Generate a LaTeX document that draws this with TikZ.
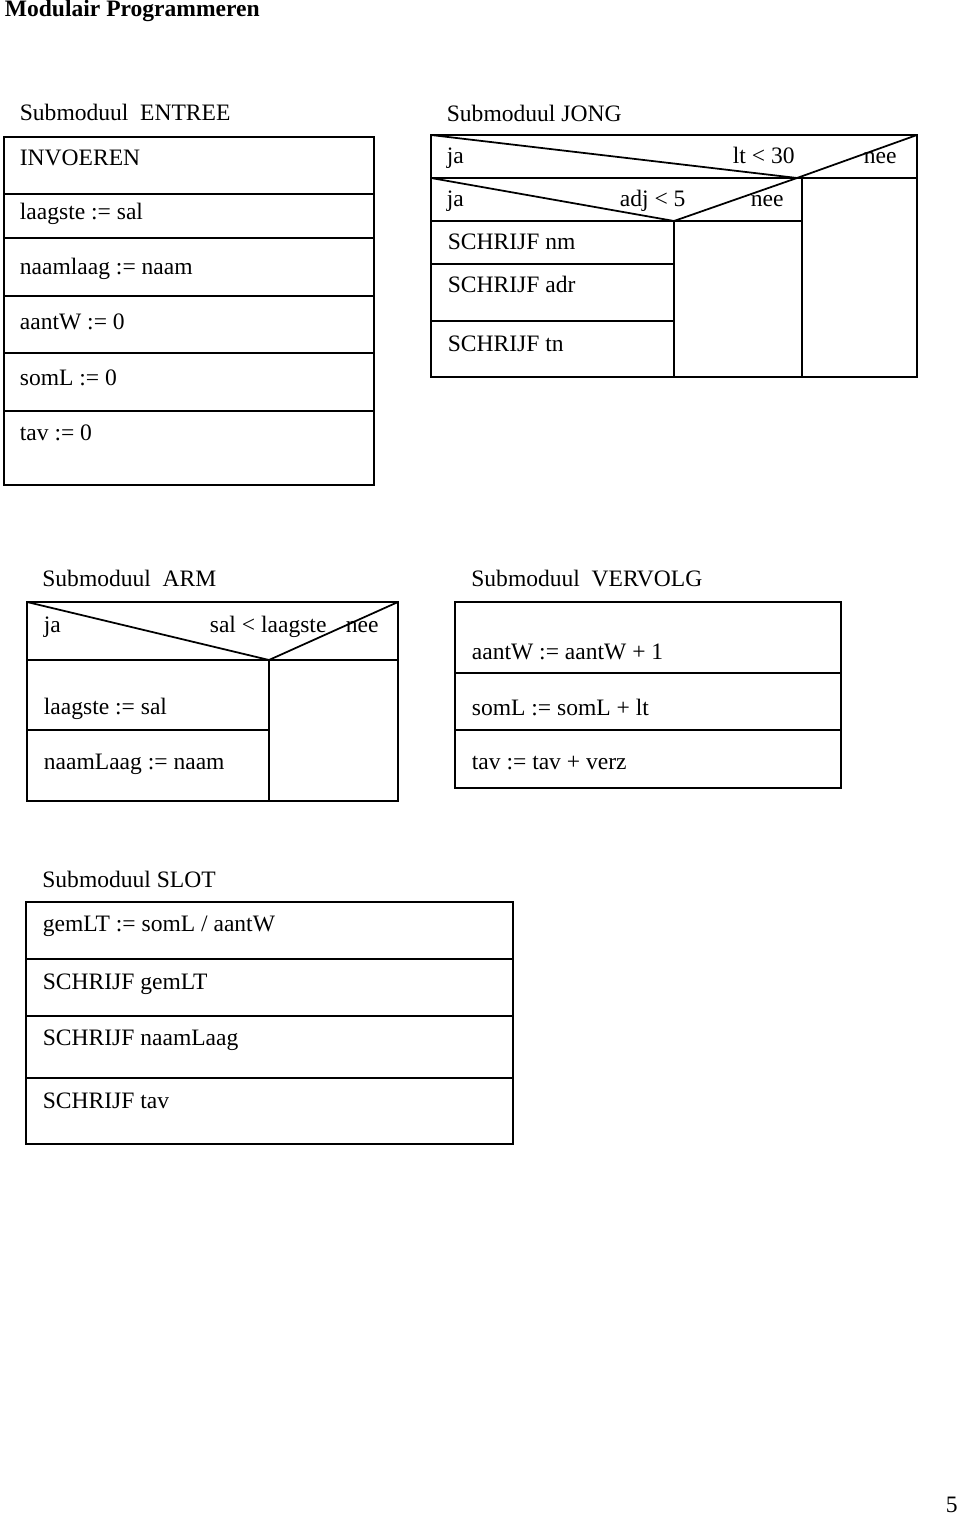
\documentclass[tikz,border=0pt]{standalone}
\usepackage{fontspec}
\setmainfont{Liberation Serif}
\begin{document}
\begin{tikzpicture}[x=0.02cm, y=-0.02cm, line width=1pt,
  txt/.style={anchor=base west, inner sep=0pt, font=\fontsize{13.4}{16}\selectfont}]
	%%%%% START %%%%%
	\useasboundingbox (0,0) rectangle (960,1520);
	
	\node[txt, font=\fontsize{13.4}{16}\selectfont\bfseries] (titel) at (4,17) {Modulair Programmeren};
	
	% Submoduul ENTREE
	\node[txt] (entreeKop) at (19,121) {Submoduul\ \ ENTREE};
	\draw (4,137) rectangle (374,485);
	\draw (4,194) -- (374,194);
	\draw (4,238) -- (374,238);
	\draw (4,296) -- (374,296);
	\draw (4,353) -- (374,353);
	\draw (4,411) -- (374,411);
	\node[txt] (invoer) at (19,166) {INVOEREN};
	\node[txt] (entreeA) at (19,220) {laagste := sal};
	\node[txt] (entreeB) at (19,275) {naamlaag := naam};
	\node[txt] (entreeC) at (19,330) {aantW := 0};
	\node[txt] (entreeD) at (19,385) {somL := 0};
	\node[txt] (entreeE) at (19,440) {tav := 0};
	
	% Submoduul JONG
	\node[txt] (jongKop) at (446,121.5) {Submoduul JONG};
	\draw (431,135) rectangle (917,377);
	\draw (431,178) -- (917,178);
	\draw (431,221) -- (802,221);
	\draw (802,178) -- (802,377);
	\draw (674,221) -- (674,377);
	\draw (431,264) -- (674,264);
	\draw (431,321) -- (674,321);
	\draw (431,135) -- (797,178) -- (917,135);
	\draw (431,178) -- (674,221) -- (797,178);
	\node[txt] (jongJa) at (446,164) {ja};
	\node[txt] (jongVw) at (732,164) {lt < 30};
	\node[txt] (jongNee) at (863,164) {nee};
	\node[txt] (adjJa) at (446,207) {ja};
	\node[txt] (adjVw) at (619,207) {adj < 5};
	\node[txt] (adjNee) at (750,207) {nee};
	\node[txt] (jongA) at (447,250) {SCHRIJF nm};
	\node[txt] (jongB) at (447,293) {SCHRIJF adr};
	\node[txt] (jongC) at (447,351) {SCHRIJF tn};
	
	% Submoduul ARM
	\node[txt] (armKop) at (41.5,586.5) {Submoduul\ \ ARM};
	\draw (27,602) rectangle (398,801);
	\draw (27,660) -- (398,660);
	\draw (269,660) -- (269,801);
	\draw (27,730) -- (269,730);
	\draw (27,602) -- (269,660) -- (398,602);
	\node[txt] (armJa) at (43,632.5) {ja};
	\node[txt] (armVw) at (209,632.5) {sal < laagste};
	\node[txt] (armNee) at (345,632.5) {nee};
	\node[txt] (armA) at (43,714) {laagste := sal};
	\node[txt] (armB) at (43,769) {naamLaag := naam};
	
	% Submoduul VERVOLG
	\node[txt] (vervolgKop) at (470.5,586.5) {Submoduul\ \ VERVOLG};
	\draw (455,602) rectangle (841,788);
	\draw (455,673) -- (841,673);
	\draw (455,730) -- (841,730);
	\node[txt] (vervolgA) at (471,659) {aantW := aantW + 1};
	\node[txt] (vervolgB) at (471,715) {somL := somL + lt};
	\node[txt] (vervolgC) at (471,769) {tav := tav + verz};
	
	% Submoduul SLOT
	\node[txt] (slotKop) at (41.5,887.5) {Submoduul SLOT};
	\draw (26,902) rectangle (513,1144);
	\draw (26,959) -- (513,959);
	\draw (26,1016) -- (513,1016);
	\draw (26,1078) -- (513,1078);
	\node[txt] (slotA) at (42,931.5) {gemLT := somL / aantW};
	\node[txt] (slotB) at (42,989) {SCHRIJF gemLT};
	\node[txt] (slotC) at (42,1045.5) {SCHRIJF naamLaag};
	\node[txt] (slotD) at (42,1108) {SCHRIJF tav};
	
	\node[txt] (pagina) at (945,1512) {5};
	%%%%% END %%%%%
\end{tikzpicture}
\end{document}
